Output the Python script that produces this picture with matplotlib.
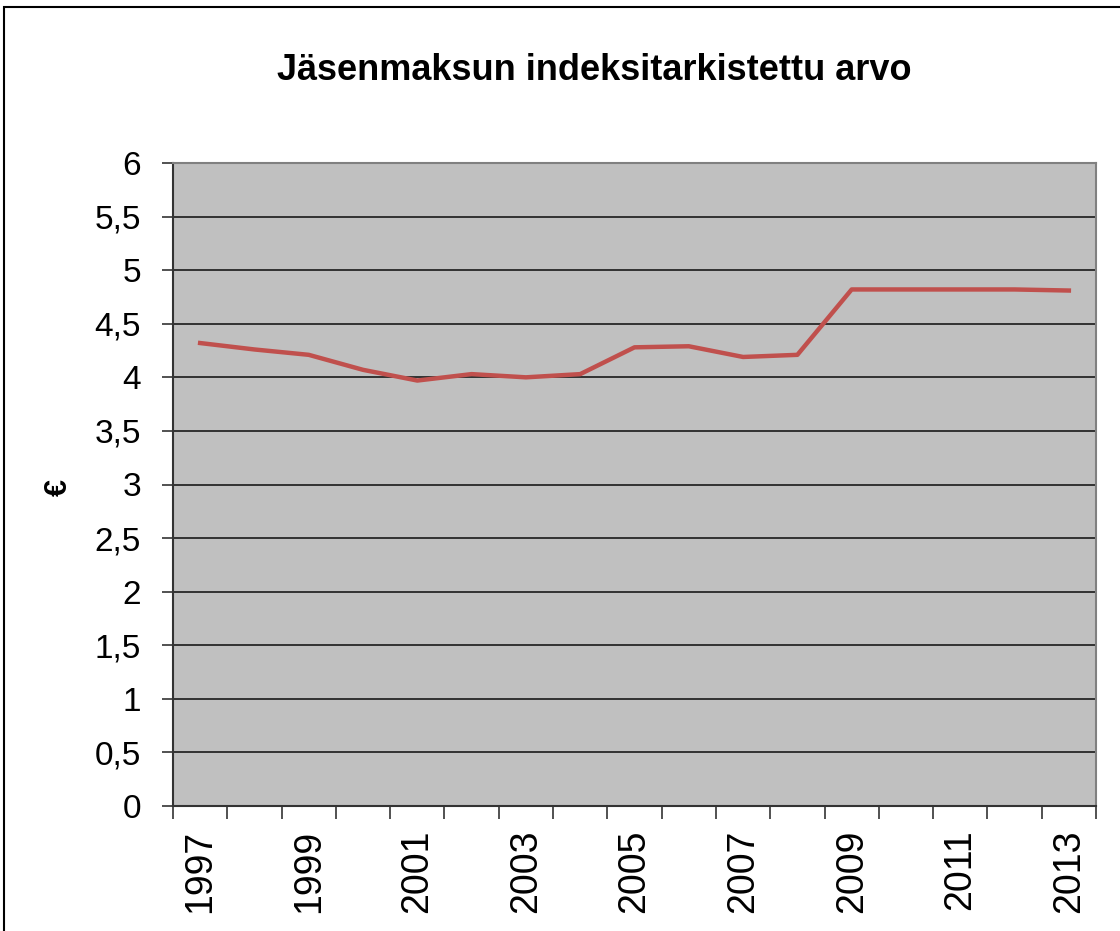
import matplotlib
matplotlib.use("Agg")
import matplotlib.pyplot as plt
import numpy as np
from matplotlib.patches import Rectangle

plt.rcParams['font.family'] = ['Liberation Sans', 'DejaVu Sans']

years = list(range(1997, 2014))
values = [4.32, 4.26, 4.21, 4.07, 3.97, 4.03, 4.00, 4.03, 4.28, 4.29, 4.19, 4.21,
          4.82, 4.82, 4.82, 4.82, 4.81]
yticks = [0, 0.5, 1, 1.5, 2, 2.5, 3, 3.5, 4, 4.5, 5, 5.5, 6]
ytick_labels = ['0', '0,5', '1', '1,5', '2', '2,5', '3', '3,5', '4', '4,5', '5', '5,5', '6']
title = 'Jäsenmaksun indeksitarkistettu arvo'
ylabel = '€'

W, H = 1120, 931
fig = plt.figure(figsize=(W / 100, H / 100), dpi=100)
fig.patch.set_facecolor('white')

# outer chart border (left and top visible)
fig.add_artist(Rectangle((4 / W, -0.05), 1.2, 1 - 7 / H + 0.05, transform=fig.transFigure,
                         fill=False, edgecolor='black', linewidth=1.5))

ax = fig.add_axes([173 / W, 1 - 806 / H, (1096 - 173) / W, (806 - 163) / H])
ax.set_facecolor('#C0C0C0')

n = len(years)
x = np.arange(n) + 0.5
ax.set_xlim(0, n)
ax.set_ylim(0, 6)

for yv in yticks[1:]:
    ax.axhline(yv, color='#1a1a1a', linewidth=1.2, zorder=1)

ax.plot(x, values, color='#C0504D', linewidth=3.2, solid_joinstyle='round', zorder=3)

ax.set_yticks(yticks)
ax.set_yticklabels(ytick_labels, fontsize=24)
ax.tick_params(axis='y', length=8, width=1.2, color='#333333', pad=15)

ax.set_xticks(np.arange(n + 1))
ax.set_xticklabels([])
ax.tick_params(axis='x', which='major', length=9, width=1.2, color='#333333')
ax.set_xticks(x[::2], minor=True)
ax.set_xticklabels([str(y) for y in years[::2]], minor=True, rotation=90, fontsize=27)
ax.tick_params(axis='x', which='minor', length=0, pad=17)

for s in ['top', 'right']:
    ax.spines[s].set_color('#808080')
    ax.spines[s].set_linewidth(1.5)
for s in ['left', 'bottom']:
    ax.spines[s].set_color('#333333')
    ax.spines[s].set_linewidth(1.5)

fig.text(594 / W, 1 - 70 / H, title, ha='center', va='center', fontsize=26, fontweight='bold')
fig.text(59 / W, 1 - 487 / H, ylabel, ha='center', va='center', fontsize=22,
         fontweight='bold', rotation=90)

fig.savefig('out.png', dpi=100)
